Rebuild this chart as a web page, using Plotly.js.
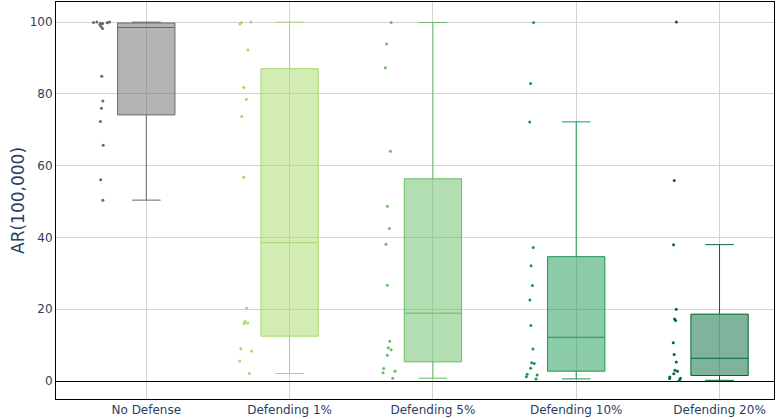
<!DOCTYPE html>
<html>
<head>
<meta charset="utf-8">
<script src="https://cdn.plot.ly/plotly-3.0.1.min.js"></script>
<style>html,body{margin:0;padding:0;background:#fff;}#chart{width:776px;height:419px;}</style>
</head>
<body>
<div id="chart"></div>
<script>
const categories = ["No Defense", "Defending 1%", "Defending 5%", "Defending 10%", "Defending 20%"];
const noDefense = [100, 100, 99.9, 99.8, 99.7, 99.6, 99.3, 98.8, 98.2, 84.9, 78.0, 76.0, 72.3, 65.7, 56.1, 50.4];
const defending1 = [100, 99.9, 99.5, 92.2, 81.8, 78.5, 73.7, 56.8, 20.3, 16.6, 16.2, 16.0, 9.0, 8.4, 5.6, 2.1];
const defending5 = [99.9, 93.9, 87.3, 64.0, 48.7, 42.5, 38.1, 26.7, 11.1, 9.3, 8.7, 7.2, 3.5, 2.7, 2.3, 0.8];
const defending10 = [99.9, 82.9, 72.2, 37.2, 32.1, 26.6, 22.6, 15.5, 8.9, 5.1, 4.9, 3.6, 1.9, 1.7, 1.2, 0.6];
const defending20 = [100, 55.9, 38.0, 20.0, 17.3, 16.9, 10.7, 7.4, 5.3, 3.0, 2.7, 2.0, 1.1, 0.8, 0.7, 0.2];
const seriesValues = [noDefense, defending1, defending5, defending10, defending20];
const colors = ["#696969", "#a6d96a", "#66bd63", "#1a9850", "#006837"];
const yTicks = [0, 20, 40, 60, 80, 100];

const traces = categories.map((c, i) => ({
  type: "box",
  name: c,
  x: seriesValues[i].map(() => c),
  y: seriesValues[i],
  boxpoints: "all",
  jitter: 0.3,
  pointpos: -1.55,
  width: 0.4,
  marker: {color: colors[i], size: 3},
  line: {color: colors[i], width: 1},
  showlegend: false,
  hoverinfo: "y"
}));

const layout = {
  width: 776, height: 419,
  margin: {l: 56, r: 2, t: 2, b: 20},
  paper_bgcolor: "#fff",
  plot_bgcolor: "#fff",
  font: {family: "DejaVu Sans, sans-serif", size: 12, color: "#2a3f5f"},
  showlegend: false,
  boxmode: "overlay",
  xaxis: {
    type: "category",
    categoryorder: "array",
    categoryarray: categories,
    range: [-0.63, 4.38],
    showgrid: true, gridcolor: "#d3d3d3",
    showline: true, linecolor: "#000", linewidth: 1, mirror: true,
    ticks: "", tickfont: {size: 12}
  },
  yaxis: {
    range: [-5, 105.6],
    tickvals: yTicks,
    showgrid: true, gridcolor: "#d3d3d3",
    zeroline: true, zerolinecolor: "#000", zerolinewidth: 1,
    showline: true, linecolor: "#000", linewidth: 1, mirror: true,
    ticks: "",
    tickfont: {size: 12},
    title: {text: "AR(100,000)", font: {size: 17}, standoff: 0}
  }
};

Plotly.newPlot("chart", traces, layout, {displayModeBar: false, staticPlot: true});
</script>
</body>
</html>
